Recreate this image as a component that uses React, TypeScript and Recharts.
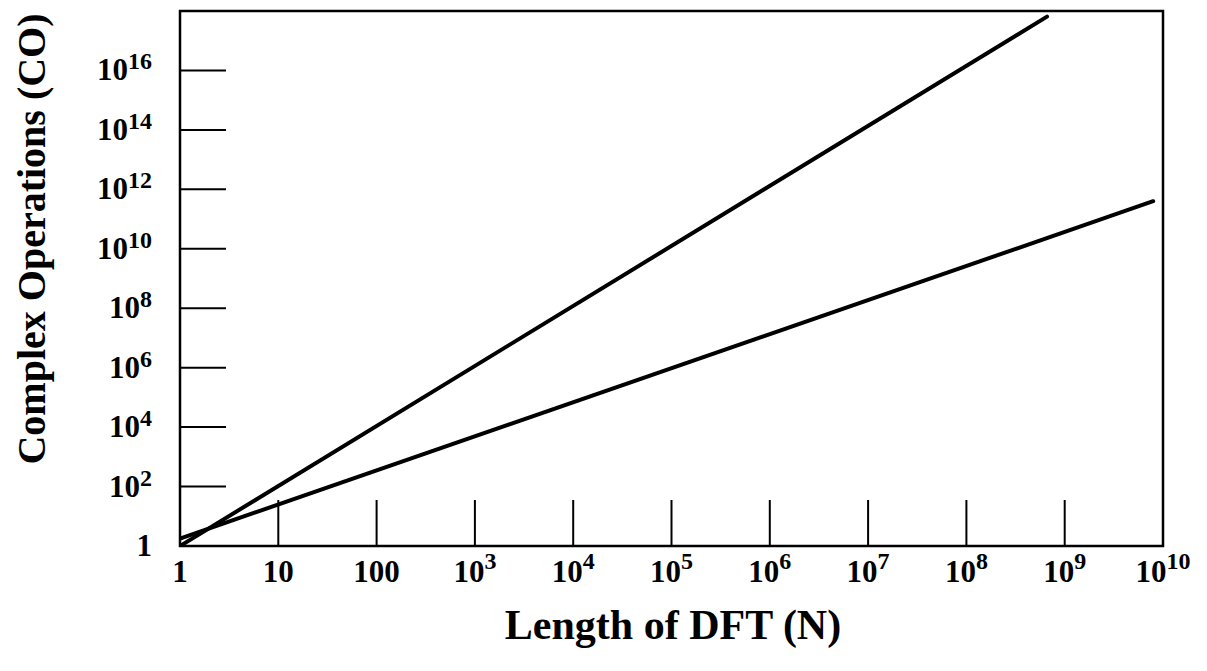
import React from "react";
import { LineChart, Line, XAxis, YAxis, ReferenceArea, Label } from "recharts";

// log10 of N (length of DFT) and log10 of complex operations
const directLogN = [0, 8.82];
const directLogCO = [0, 17.81];
const fftLogN = [0, 9.9];
const fftLogCO = [0.25, 11.6];

const xTickValues = [0, 1, 2, 3, 4, 5, 6, 7, 8, 9, 10];
const xTickBase = ["1", "10", "100", "10", "10", "10", "10", "10", "10", "10", "10"];
const xTickSup = ["", "", "", "3", "4", "5", "6", "7", "8", "9", "10"];

const yTickValues = [0, 2, 4, 6, 8, 10, 12, 14, 16];
const yTickBase = ["1", "10", "10", "10", "10", "10", "10", "10", "10"];
const yTickSup = ["", "2", "4", "6", "8", "10", "12", "14", "16"];

const X_MIN = 0;
const X_MAX = 10;
const Y_MIN = 0;
const Y_MAX = 18;

const directData = directLogN.map((x, i) => ({ x, y: directLogCO[i] }));
const fftData = fftLogN.map((x, i) => ({ x, y: fftLogCO[i] }));

const FONT = "'Liberation Serif', 'Times New Roman', Times, serif";

const XTick = (props: any) => {
  const { x, y, payload } = props;
  const i = xTickValues.indexOf(payload.value);
  const inner = payload.value > X_MIN && payload.value < X_MAX;
  return (
    <g>
      {inner && <line x1={x} x2={x} y1={y} y2={y - 46} stroke="#000" strokeWidth={2} />}
      <text x={x} y={y + 36} textAnchor="middle" fontFamily={FONT} fontWeight="bold" fontSize={31} fill="#000">
        {xTickBase[i]}
        {xTickSup[i] && (
          <tspan dy={-13} fontSize={24}>
            {xTickSup[i]}
          </tspan>
        )}
      </text>
    </g>
  );
};

const YTick = (props: any) => {
  const { x, y, payload } = props;
  const i = yTickValues.indexOf(payload.value);
  const inner = payload.value > Y_MIN && payload.value < Y_MAX;
  return (
    <g>
      {inner && <line x1={x} x2={x + 46} y1={y} y2={y} stroke="#000" strokeWidth={2} />}
      <text x={x - 28} y={y + 10} textAnchor="end" fontFamily={FONT} fontWeight="bold" fontSize={31} fill="#000">
        {yTickBase[i]}
        {yTickSup[i] && (
          <tspan dy={-11} fontSize={24}>
            {yTickSup[i]}
          </tspan>
        )}
      </text>
    </g>
  );
};

export default function App() {
  return (
    <div style={{ position: "absolute", left: 0, top: 0, background: "#fff" }}>
      <LineChart width={1207} height={671} margin={{ top: 11, right: 44, bottom: 95, left: 120 }}>
        <XAxis
          type="number"
          dataKey="x"
          domain={[X_MIN, X_MAX]}
          ticks={xTickValues}
          interval={0}
          height={30}
          tickSize={0}
          tickMargin={0}
          tickLine={false}
          axisLine={false}
          tick={<XTick />}
          allowDataOverflow
        >
          <Label
            content={() => (
              <text x={673} y={639} textAnchor="middle" fontFamily={FONT} fontWeight="bold" fontSize={42} fill="#000">
                Length of DFT (N)
              </text>
            )}
          />
        </XAxis>
        <YAxis
          type="number"
          dataKey="y"
          domain={[Y_MIN, Y_MAX]}
          ticks={yTickValues}
          interval={0}
          width={60}
          tickSize={0}
          tickMargin={0}
          tickLine={false}
          axisLine={false}
          tick={<YTick />}
          allowDataOverflow
        >
          <Label
            content={() => (
              <text
                x={45}
                y={239}
                textAnchor="middle"
                transform="rotate(-90, 45, 239)"
                fontFamily={FONT}
                fontWeight="bold"
                fontSize={40}
                fill="#000"
              >
                Complex Operations (CO)
              </text>
            )}
          />
        </YAxis>
        <ReferenceArea
          x1={X_MIN}
          x2={X_MAX}
          y1={Y_MIN}
          y2={Y_MAX}
          fill="none"
          fillOpacity={0}
          stroke="#000"
          strokeWidth={2.5}
          ifOverflow="visible"
        />
        <Line
          data={directData}
          dataKey="y"
          type="linear"
          stroke="#000"
          strokeWidth={4}
          strokeLinecap="round"
          dot={false}
          activeDot={false}
          isAnimationActive={false}
        />
        <Line
          data={fftData}
          dataKey="y"
          type="linear"
          stroke="#000"
          strokeWidth={4}
          strokeLinecap="round"
          dot={false}
          activeDot={false}
          isAnimationActive={false}
        />
      </LineChart>
    </div>
  );
}
